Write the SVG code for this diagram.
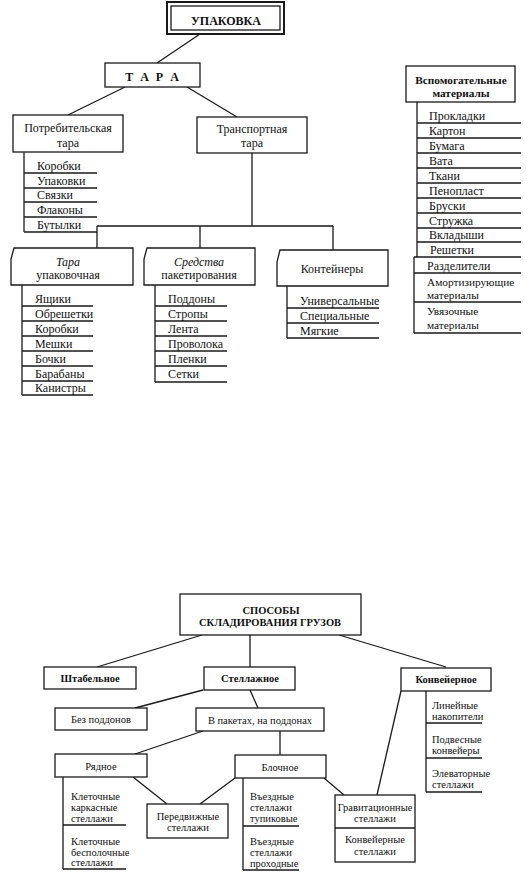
<svg xmlns="http://www.w3.org/2000/svg" width="528" height="877" viewBox="0 0 528 877">
<style>
.bx{fill:#fff;stroke:#1a1a1a;stroke-width:1.3}
.ln{fill:none;stroke:#1a1a1a;stroke-width:1.3}
text{font-family:"Liberation Serif","DejaVu Serif",serif;font-size:12px;fill:#111}
.c{text-anchor:middle}
.b{font-weight:bold}
.i{font-style:italic}
.s{font-size:10.5px}
.m{font-size:11.3px}
</style>
<rect width="528" height="877" fill="#fff"/>
<g id="connectors" class="ln">
<path d="M200 34L157 63M125 87L68 115M187 87L237 117M252 153V226M97 226H333M97 226V248M200 226V248M333 226V250"/>
<path d="M202 635L97 667M250 635V667M339 635L446 667M203 690L135 708M250 690L258 708M203 731L135 754M280 731V755M133 777L167 804M235 778L200 804M324 778L344 795M401 691L377 795"/>
</g>
<g id="upakovka">
<rect x="167" y="2" width="117" height="32" fill="#fff" stroke="#1a1a1a" stroke-width="2"/>
<rect x="171" y="6" width="109" height="24" class="ln"/>
<text x="226" y="25" class="c b">УПАКОВКА</text>
</g>
<g id="tara">
<rect x="105" y="63" width="95" height="24" class="bx"/>
<text x="153" y="81" class="c b" style="letter-spacing:2px">Т А Р А</text>
</g>
<g id="potreb">
<rect x="13" y="115" width="110" height="37" class="bx"/>
<text x="68" y="132" class="c">Потребительская</text>
<text x="68" y="147" class="c">тара</text>
</g>
<g id="potreb-list">
<path class="ln" d="M24 152V232M24 173H97M24 188H97M24 202H97M24 217H97M24 232H97"/>
<text x="37" y="170">Коробки</text>
<text x="37" y="185">Упаковки</text>
<text x="37" y="199">Связки</text>
<text x="37" y="214">Флаконы</text>
<text x="37" y="229">Бутылки</text>
</g>
<g id="transport">
<rect x="197" y="117" width="110" height="36" class="bx"/>
<text x="252" y="133" class="c">Транспортная</text>
<text x="252" y="147" class="c">тара</text>
</g>
<g id="tara-upak">
<path class="bx" d="M14 248H133V285H11V259Z"/>
<text x="68" y="266" class="c i">Тара</text>
<text x="68" y="279" class="c">упаковочная</text>
</g>
<g id="tara-upak-list">
<path class="ln" d="M22 285V395M22 306H93M22 321H93M22 336H93M22 351H93M22 366H93M22 381H93M22 395H93"/>
<text x="35" y="303">Ящики</text>
<text x="35" y="318">Обрешетки</text>
<text x="35" y="333">Коробки</text>
<text x="35" y="348">Мешки</text>
<text x="35" y="363">Бочки</text>
<text x="35" y="378">Барабаны</text>
<text x="35" y="392">Канистры</text>
</g>
<g id="sredstva">
<path class="bx" d="M147 248H255V285H144V259Z"/>
<text x="199" y="266" class="c i">Средства</text>
<text x="199" y="279" class="c">пакетирования</text>
</g>
<g id="sredstva-list">
<path class="ln" d="M155 285V382M155 306H227M155 321H227M155 336H227M155 351H227M155 366H227M155 382H227"/>
<text x="168" y="303">Поддоны</text>
<text x="168" y="318">Стропы</text>
<text x="168" y="333">Лента</text>
<text x="168" y="348">Проволока</text>
<text x="168" y="363">Пленки</text>
<text x="168" y="378">Сетки</text>
</g>
<g id="konteinery">
<path class="bx" d="M280 250H388V286H277V262Z"/>
<text x="332" y="273" class="c">Контейнеры</text>
</g>
<g id="konteinery-list">
<path class="ln" d="M287 286V338M287 308H379M287 323H379M287 338H379"/>
<text x="300" y="305">Универсальные</text>
<text x="300" y="320">Специальные</text>
<text x="300" y="335">Мягкие</text>
</g>
<g id="vspom">
<rect x="406" y="66" width="109" height="36" class="bx"/>
<text x="461" y="84" class="c b" style="font-size:11.3px">Вспомогательные</text>
<text x="461" y="97" class="c b" style="font-size:11.3px">материалы</text>
</g>
<g id="vspom-list">
<path class="ln" d="M417 102V257M414 257V333M417 123H521M417 138H521M417 153H521M417 168H521M417 183H521M417 198H521M417 213H521M417 228H521M417 242H521M414 257H521M414 273H521M414 302H521M414 333H521"/>
<text x="429" y="120">Прокладки</text>
<text x="429" y="135">Картон</text>
<text x="429" y="150">Бумага</text>
<text x="429" y="165">Вата</text>
<text x="429" y="180">Ткани</text>
<text x="429" y="195">Пенопласт</text>
<text x="429" y="210">Бруски</text>
<text x="429" y="225">Стружка</text>
<text x="429" y="239">Вкладыши</text>
<text x="430" y="254">Решетки</text>
<text x="427" y="270">Разделители</text>
<text x="427" y="286" class="m">Амортизирующие</text>
<text x="427" y="299" class="m">материалы</text>
<text x="427" y="315" class="m">Увязочные</text>
<text x="427" y="329" class="m">материалы</text>
</g>
<g id="sposoby">
<rect x="180" y="594" width="181" height="41" class="bx"/>
<text x="271" y="614" class="c b s">СПОСОБЫ</text>
<text x="270" y="626" class="c b s">СКЛАДИРОВАНИЯ ГРУЗОВ</text>
</g>
<g id="shtabelnoe">
<rect x="44" y="667" width="92" height="22" class="bx"/>
<text x="90" y="682" class="c b s">Штабельное</text>
</g>
<g id="stellazhnoe">
<rect x="204" y="667" width="91" height="23" class="bx"/>
<text x="250" y="682" class="c b s">Стеллажное</text>
</g>
<g id="konveiernoe">
<rect x="401" y="668" width="90" height="23" class="bx"/>
<text x="446" y="683" class="c b s">Конвейерное</text>
</g>
<g id="konveiernoe-list">
<path class="ln" d="M426 691V792M426 723H482M426 758H482M426 792H482"/>
<text x="432" y="709" class="s">Линейные</text>
<text x="432" y="720" class="s">накопители</text>
<text x="432" y="743" class="s">Подвесные</text>
<text x="432" y="754" class="s">конвейеры</text>
<text x="432" y="777" class="s">Элеваторные</text>
<text x="432" y="788" class="s">стеллажи</text>
</g>
<g id="bez-poddonov">
<rect x="55" y="708" width="92" height="22" class="bx"/>
<text x="101" y="723" class="c s">Без поддонов</text>
</g>
<g id="v-paketah">
<rect x="196" y="708" width="128" height="23" class="bx"/>
<text x="260" y="724" class="c s">В пакетах, на поддонах</text>
</g>
<g id="ryadnoe">
<rect x="55" y="754" width="92" height="23" class="bx"/>
<text x="101" y="770" class="c s">Рядное</text>
</g>
<g id="ryadnoe-list">
<path class="ln" d="M63 777V869M63 825H126M63 869H126"/>
<text x="71" y="800" class="s">Клеточные</text>
<text x="71" y="811" class="s">каркасные</text>
<text x="71" y="822" class="s">стеллажи</text>
<text x="71" y="845" class="s">Клеточные</text>
<text x="71" y="856" class="s">бесполочные</text>
<text x="71" y="866" class="s">стеллажи</text>
</g>
<g id="peredvizhnye">
<rect x="147" y="804" width="81" height="34" class="bx"/>
<text x="188" y="820" class="c s">Передвижные</text>
<text x="188" y="831" class="c s">стеллажи</text>
</g>
<g id="blochnoe">
<rect x="235" y="755" width="91" height="23" class="bx"/>
<text x="280" y="771" class="c s">Блочное</text>
</g>
<g id="blochnoe-list">
<path class="ln" d="M243 778V870M243 826H299M243 870H299"/>
<text x="250" y="800" class="s">Въездные</text>
<text x="250" y="811" class="s">стеллажи</text>
<text x="250" y="822" class="s">тупиковые</text>
<text x="250" y="845" class="s">Въездные</text>
<text x="250" y="856" class="s">стеллажи</text>
<text x="250" y="867" class="s">проходные</text>
</g>
<g id="gravitacionnye">
<rect x="335" y="795" width="80" height="67" class="bx"/>
<path class="ln" d="M335 828H415"/>
<text x="375" y="811" class="c s">Гравитационные</text>
<text x="375" y="822" class="c s">стеллажи</text>
<text x="375" y="843" class="c s">Конвейерные</text>
<text x="375" y="855" class="c s">стеллажи</text>
</g>
</svg>
